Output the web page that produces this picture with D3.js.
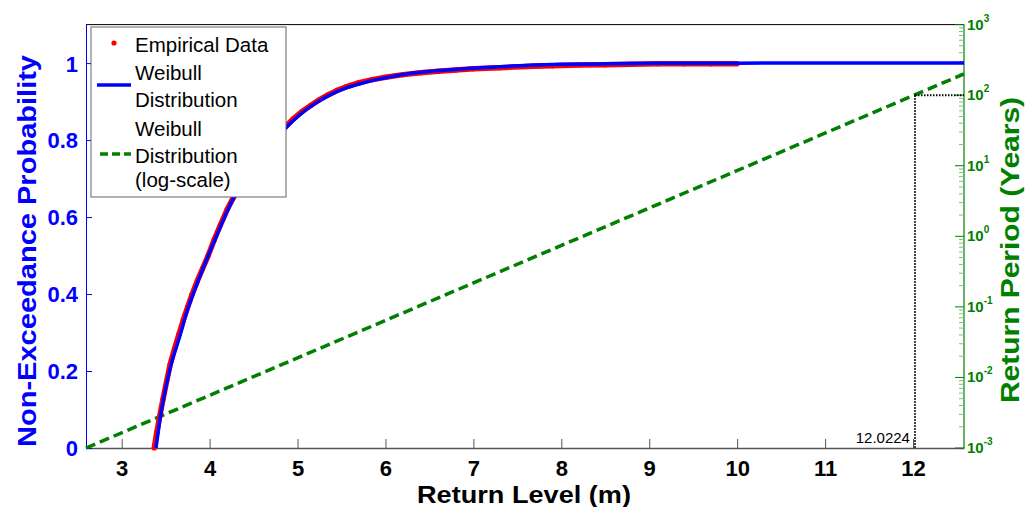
<!DOCTYPE html>
<html>
<head>
<meta charset="utf-8">
<script src="https://cdn.jsdelivr.net/npm/d3@7"></script>
<style>
  html, body { margin: 0; padding: 0; background: #fff; }
  svg { display: block; font-family: "Liberation Sans", Arial, Helvetica, sans-serif; }
</style>
</head>
<body>
<svg id="chart" width="1027" height="507"></svg>
<script>
// ---- Data ----
const xTicks = [3, 4, 5, 6, 7, 8, 9, 10, 11, 12];
const yTicks = [0, 0.2, 0.4, 0.6, 0.8, 1];
const periodDecades = [-3, -2, -1, 0, 1, 2, 3];

// Weibull CDF curve (return level m, non-exceedance probability)
const weibullX = [3.39, 3.436, 3.549, 3.663, 3.739, 3.853, 3.967, 4.081, 4.251, 4.5, 4.7, 4.877, 5.028, 5.18, 5.36, 5.56, 5.75, 5.939, 6.317, 6.697, 7.076, 7.5, 7.986, 8.5, 9.124, 10.0, 11.0, 12.58];
const weibullF = [0.0, 0.075, 0.205, 0.292, 0.352, 0.424, 0.490, 0.552, 0.640, 0.728, 0.788, 0.834, 0.866, 0.892, 0.916, 0.936, 0.949, 0.959, 0.974, 0.982, 0.988, 0.993, 0.997, 0.998, 0.9995, 0.9999, 1.0, 1.0];

// Empirical data points
const empiricalX = [3.37, 3.40, 3.43, 3.47, 3.51, 3.55, 3.60, 3.65, 3.70, 3.75, 3.80, 3.86, 3.92, 3.98, 4.05, 4.12, 4.20, 4.28, 4.36, 4.45, 4.55, 4.65, 4.75, 4.85, 4.95, 5.05, 5.15, 5.25, 5.35, 5.45, 5.55, 5.70, 5.85, 6.00, 6.20, 6.40, 6.60, 6.80, 7.00, 7.30, 7.60, 7.90, 8.20, 8.50, 8.80, 9.10, 9.40, 9.70, 10.0];
const empiricalF = [0.0, 0.042, 0.080, 0.127, 0.172, 0.216, 0.257, 0.295, 0.332, 0.366, 0.399, 0.434, 0.466, 0.498, 0.540, 0.578, 0.620, 0.655, 0.685, 0.716, 0.749, 0.779, 0.806, 0.832, 0.855, 0.874, 0.890, 0.905, 0.918, 0.929, 0.938, 0.949, 0.957, 0.963, 0.970, 0.975, 0.979, 0.982, 0.985, 0.988, 0.991, 0.993, 0.995, 0.996, 0.997, 0.998, 0.998, 0.998, 0.9985];

// Return period line (log scale, years)
const returnLevelLine = [2.594, 12.58];
const returnPeriodLine = [0.001, 200];

// Annotation: 100-year return level
const annotLevel = 12.0224;
const annotPeriod = 100;
const annotLabel = "12.0224";

// Legend labels
const legendLabels = [["Empirical Data"], ["Weibull", "Distribution"], ["Weibull", "Distribution", "(log-scale)"]];

// ---- Drawing ----
const svg = d3.select("#chart");
const L = 86, R = 964, T = 24.6, B = 448;
const blue = "#0000ff", red = "#ff0000", green = "#008000";

const x = d3.scaleLinear().domain([2.594, 12.58]).range([L, R]);
const y = d3.scaleLinear().domain([0, 1.1]).range([B, T]);
const yR = d3.scaleLog().domain([1e-3, 1e3]).range([B, T]);

svg.append("rect").attr("width", 1027).attr("height", 507).attr("fill", "#fff");

// top border
svg.append("line").attr("x1", L).attr("x2", R).attr("y1", T).attr("y2", T)
  .attr("stroke", "#000").attr("stroke-width", 1);

// bottom axis
const gx = svg.append("g").attr("transform", `translate(0,${B})`)
  .call(d3.axisBottom(x).tickValues(xTicks).tickSizeInner(-9).tickSizeOuter(0).tickFormat(d3.format("d")));
gx.select(".domain").attr("stroke", "#555").attr("stroke-width", 1.5);
gx.selectAll(".tick line").attr("stroke", "#555");
gx.selectAll(".tick text").attr("y", 28).attr("dy", 0)
  .attr("font-size", 22).attr("font-weight", "bold").attr("fill", "#000")
  .attr("font-family", "Liberation Sans, Arial, sans-serif");

// left axis
const gy = svg.append("g").attr("transform", `translate(${L},0)`)
  .call(d3.axisLeft(y).tickValues(yTicks).tickSizeInner(-6).tickSizeOuter(0).tickFormat(d => d3.format("")(d)));
gy.select(".domain").attr("stroke", blue).attr("stroke-width", 1);
gy.selectAll(".tick line").attr("stroke", blue);
gy.selectAll(".tick text").attr("x", -8).attr("dy", "0.36em")
  .attr("font-size", 22).attr("font-weight", "bold").attr("fill", blue)
  .attr("font-family", "Liberation Sans, Arial, sans-serif");

// right log axis
const gr = svg.append("g").attr("transform", `translate(${R},0)`);
gr.append("line").attr("x1", 0).attr("x2", 0).attr("y1", T).attr("y2", B)
  .attr("stroke", green).attr("stroke-width", 1.2);
const minorVals = [];
periodDecades.slice(0, -1).forEach(d => {
  for (let k = 2; k <= 9; k++) minorVals.push(k * Math.pow(10, d));
});
gr.selectAll("line.minor").data(minorVals).enter().append("line").attr("class", "minor")
  .attr("x1", -5).attr("x2", 0).attr("y1", d => yR(d)).attr("y2", d => yR(d))
  .attr("stroke", "#7fbf7f").attr("stroke-width", 1);
gr.selectAll("line.major").data(periodDecades).enter().append("line").attr("class", "major")
  .attr("x1", -9).attr("x2", 0).attr("y1", d => yR(Math.pow(10, d))).attr("y2", d => yR(Math.pow(10, d)))
  .attr("stroke", green).attr("stroke-width", 1);
const lab = gr.selectAll("text.dec").data(periodDecades).enter().append("text").attr("class", "dec")
  .attr("x", 3).attr("y", d => yR(Math.pow(10, d)) + 5)
  .attr("font-size", 15).attr("font-weight", "bold").attr("fill", green);
lab.append("tspan").text("10");
lab.append("tspan").attr("dy", -8).attr("font-size", 10).text(d => d);

// return period dashed line
const lineR = d3.line().x(d => x(d[0])).y(d => yR(d[1]));
svg.append("path").datum(d3.zip(returnLevelLine, returnPeriodLine))
  .attr("d", lineR).attr("fill", "none").attr("stroke", green)
  .attr("stroke-width", 3.5).attr("stroke-dasharray", "10,5");

// annotation dotted lines
svg.append("line").attr("x1", x(annotLevel)).attr("x2", x(annotLevel))
  .attr("y1", yR(annotPeriod)).attr("y2", B)
  .attr("stroke", "#000").attr("stroke-width", 2).attr("stroke-dasharray", "1.5,1.5");
svg.append("line").attr("x1", x(annotLevel)).attr("x2", R)
  .attr("y1", yR(annotPeriod)).attr("y2", yR(annotPeriod))
  .attr("stroke", "#000").attr("stroke-width", 2).attr("stroke-dasharray", "1.5,1.5");
svg.append("text").attr("x", x(annotLevel) - 5).attr("y", B - 5)
  .attr("text-anchor", "end").attr("font-size", 15).attr("fill", "#000").text(annotLabel);

// empirical data
const lineP = d3.line().x(d => x(d[0])).y(d => y(d[1]));
const emp = d3.zip(empiricalX, empiricalF);
svg.append("path").datum(emp).attr("d", lineP).attr("fill", "none")
  .attr("stroke", red).attr("stroke-width", 5.5).attr("stroke-linejoin", "round");
svg.selectAll("circle.emp").data(emp).enter().append("circle").attr("class", "emp")
  .attr("cx", d => x(d[0])).attr("cy", d => y(d[1])).attr("r", 2.6).attr("fill", red);

// weibull curve
svg.append("path").datum(d3.zip(weibullX, weibullF)).attr("d", lineP.curve(d3.curveMonotoneX))
  .attr("fill", "none").attr("stroke", blue).attr("stroke-width", 3.5);

// legend
const lg = svg.append("g");
lg.append("rect").attr("x", 91).attr("y", 27).attr("width", 195).attr("height", 170)
  .attr("fill", "#fff").attr("stroke", "#666").attr("stroke-width", 1);
lg.append("circle").attr("cx", 114).attr("cy", 43).attr("r", 2.6).attr("fill", red);
lg.append("line").attr("x1", 97).attr("x2", 131).attr("y1", 85).attr("y2", 85)
  .attr("stroke", blue).attr("stroke-width", 3.5);
lg.append("line").attr("x1", 100).attr("x2", 131).attr("y1", 154).attr("y2", 154)
  .attr("stroke", green).attr("stroke-width", 3.5).attr("stroke-dasharray", "8,4");
const baselines = [[52], [80, 107], [136, 163, 187]];
legendLabels.forEach((lines, i) => {
  lines.forEach((t, j) => {
    lg.append("text").attr("x", 135).attr("y", baselines[i][j])
      .attr("font-size", 20.5).attr("fill", "#000").text(t);
  });
});

// axis titles
svg.append("text").attr("transform", "translate(36,251) rotate(-90)")
  .attr("text-anchor", "middle").attr("font-size", 26).attr("font-weight", "bold")
  .attr("fill", blue).attr("textLength", 392).attr("lengthAdjust", "spacingAndGlyphs")
  .text("Non-Exceedance Probability");
svg.append("text").attr("transform", "translate(1019,250) rotate(-90)")
  .attr("text-anchor", "middle").attr("font-size", 26).attr("font-weight", "bold")
  .attr("fill", green).attr("textLength", 306).attr("lengthAdjust", "spacingAndGlyphs")
  .text("Return Period (Years)");
svg.append("text").attr("x", 524).attr("y", 503)
  .attr("text-anchor", "middle").attr("font-size", 23).attr("font-weight", "bold")
  .attr("fill", "#000").attr("textLength", 214).attr("lengthAdjust", "spacingAndGlyphs")
  .text("Return Level (m)");
</script>
</body>
</html>
